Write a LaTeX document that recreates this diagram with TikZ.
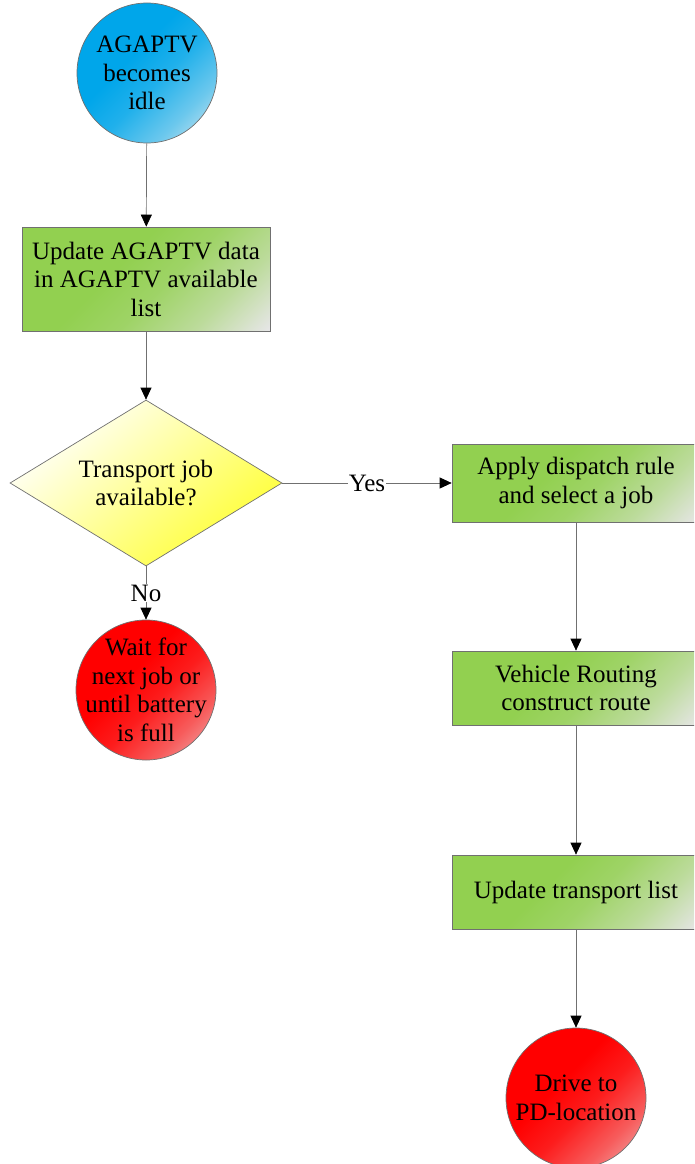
\documentclass[tikz,border=0pt]{standalone}
\usepackage{fontspec}
\setmainfont{Liberation Serif}
\usetikzlibrary{shapes.geometric,arrows.meta}

\definecolor{idleblue}{HTML}{00A6EA}
\definecolor{paleblue}{HTML}{D8EAF0}
\definecolor{boxgreen}{HTML}{92D050}
\definecolor{palegray}{HTML}{E6E6E6}
\definecolor{stopred}{HTML}{FF0000}
\definecolor{palered}{HTML}{EFB8B8}
\definecolor{askyellow}{HTML}{FFFF33}
\definecolor{edgegray}{HTML}{707070}
\colorlet{greenA}{boxgreen!50!palegray}
\colorlet{greenB}{boxgreen!85!palegray}
\colorlet{blueA}{idleblue!50!paleblue}
\colorlet{blueB}{idleblue!85!paleblue}
\colorlet{redA}{stopred!50!palered}
\colorlet{redB}{stopred!85!palered}

% solid fill that only fades out towards one corner
\pgfdeclareverticalshading{greenfade}{100bp}{color(0bp)=(palegray); color(15bp)=(palegray);
  color(30bp)=(greenA); color(45bp)=(greenB); color(58bp)=(boxgreen); color(100bp)=(boxgreen)}
\pgfdeclareverticalshading{bluefade}{100bp}{color(0bp)=(paleblue); color(15bp)=(paleblue);
  color(30bp)=(blueA); color(45bp)=(blueB); color(58bp)=(idleblue); color(100bp)=(idleblue)}
\pgfdeclareverticalshading{redfade}{100bp}{color(0bp)=(palered); color(15bp)=(palered);
  color(30bp)=(redA); color(45bp)=(redB); color(58bp)=(stopred); color(100bp)=(stopred)}

\tikzset{
  flow/.style={draw=edgegray, line width=0.7pt, -{Triangle[length=12pt,width=11pt,black]}},
  roundstate/.style={circle, draw=edgegray, line width=0.7pt, minimum size=140pt,
    inner sep=-20pt, align=center},
  startstate/.style={roundstate, shading=bluefade, shading angle=45},
  endstate/.style={roundstate, shading=redfade, shading angle=45},
  stepbox/.style={rectangle, draw=edgegray, line width=0.7pt, minimum width=248pt,
    inner sep=0pt, align=center, shading=greenfade, shading angle=45},
  question/.style={diamond, aspect=1.64, draw=edgegray, line width=0.7pt,
    minimum width=272pt, minimum height=166pt, inner sep=0pt, align=center,
    top color=white, bottom color=askyellow, shading angle=40},
  answer/.style={fill=white, inner sep=1pt}
}

\begin{document}
\begin{tikzpicture}[x=1pt,y=-1pt,font=\fontsize{25}{28.5}\selectfont]
\clip (0,0) rectangle (694,1164);
\useasboundingbox (0,0) rectangle (694,1164);

% left column
\node[startstate] (idle) at (147,73) {AGAPTV\\becomes\\idle};
\node[stepbox, minimum height=104pt] (update) at (146,279)
  {Update AGAPTV data\\in AGAPTV available\\list};
\node[question] (jobq) at (146,483) {Transport job\\available?};
\node[endstate] (wait) at (146,690) {Wait for\\next job or\\until battery\\is full};

% right column
\node[stepbox, minimum height=78pt] (dispatch) at (576,483)
  {Apply dispatch rule\\and select a job};
\node[stepbox, minimum height=74pt] (routing) at (576,688)
  {Vehicle Routing\\construct route};
\node[stepbox, minimum height=74pt] (translist) at (576,892) {Update transport list};
\node[endstate] (drive) at (576,1098) {Drive to\\PD-location};

\draw[flow] (idle) -- (update);
\draw[flow] (update) -- (jobq);
\draw[flow] (jobq.east) -- node[answer]{Yes} (dispatch.west);
\draw[flow] (jobq.south) -- node[answer]{No} (wait.north);
\draw[flow] (dispatch) -- (routing);
\draw[flow] (routing) -- (translist);
\draw[flow] (translist) -- (drive);
\end{tikzpicture}
\end{document}
